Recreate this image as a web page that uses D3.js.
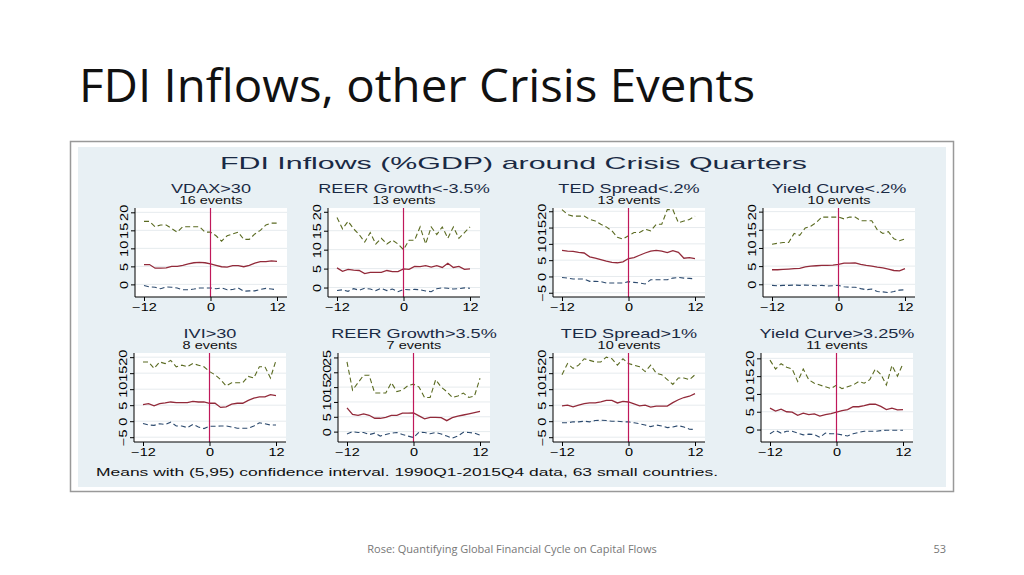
<!DOCTYPE html>
<html>
<head>
<meta charset="utf-8">
<script src="https://cdn.jsdelivr.net/npm/d3@7"></script>
<style>
  body { margin: 0; background: #fff; }
  svg { display: block; }
</style>
</head>
<body>
<svg id="chart" width="1024" height="575"></svg>
<script>
const quarters = d3.range(-12, 13)

const titles = ['VDAX>30', 'REER Growth<-3.5%', 'TED Spread<.2%', 'Yield Curve<.2%',
    'IVI>30', 'REER Growth>3.5%', 'TED Spread>1%', 'Yield Curve>3.25%']
const events = [16, 13, 13, 10, 8, 7, 10, 11]
const yTicks = [
    [0, 5, 10, 15, 20], [0, 5, 10, 15, 20], [-5, 0, 5, 10, 15, 20], [0, 5, 10, 15, 20],
    [-5, 0, 5, 10, 15, 20], [0, 5, 10, 15, 20, 25], [-5, 0, 5, 10, 15, 20], [0, 5, 10, 15, 20],
]
const yDomains = [
    [-3.5, 21.2], [-2.5, 21], [-6.3, 21], [-3.5, 21],
    [-6.5, 21.3], [-3.5, 26.5], [-6.5, 21.3], [-3.5, 21.5],
]

const upper = [
    [17.5, 17.5, 16, 16.5, 16.5, 15.5, 14.5, 16, 16, 16, 16, 14.5, 14.5, 13.5, 12, 13.5, 14, 14.5, 12.5, 12.5, 14, 15, 16.5, 17, 17],
    [18.5, 15.5, 17.5, 15.5, 14, 12, 14.5, 11.5, 13, 11.5, 12.5, 11.5, 10, 12.5, 12.5, 16, 11.5, 16, 14, 16, 13, 16, 13, 14.5, 16],
    [20.5, 19, 18.5, 18.5, 18.5, 17.5, 17, 16, 15.2, 14, 12, 11.5, 12.5, 13.5, 13.5, 14.5, 14, 16, 16, 20.5, 20.5, 16.5, 17, 17.5, 18.5],
    [11, 11.3, 11.5, 11.5, 14, 13.5, 15.5, 16, 17, 18.5, 18.5, 18.5, 18.5, 18, 18.5, 18.5, 17.5, 17.5, 17.5, 15, 14, 14.5, 12.5, 12, 12.5],
    [18.5, 18.5, 16.5, 18.5, 18, 19, 17, 17.5, 17, 18, 17.5, 17, 15.5, 14.5, 13, 11, 12, 12, 12, 14, 13.5, 17, 17, 13.5, 19],
    [23.5, 14, 16.5, 19, 19, 13, 13, 13, 16.5, 13.5, 14, 15.5, 16, 15, 11.5, 11.5, 17.5, 15, 13.5, 11.5, 12, 13, 11.5, 12, 18],
    [14.5, 18, 16.5, 17.5, 19.5, 19, 18.5, 18.5, 20, 19.5, 17.5, 19.5, 18, 17.5, 17, 15.5, 17.5, 15, 14.5, 13, 11.5, 13.5, 13.5, 13, 14.5],
    [19.5, 17, 18.5, 17.5, 17, 13.5, 17, 14, 13, 12.5, 12, 11.5, 12.5, 11.5, 12, 12.5, 13.5, 13, 14, 17, 15.5, 12.5, 18, 15, 18.5],
]
const means = [
    [5.5, 5.5, 4.5, 4.5, 4.6, 5, 5, 5.3, 5.7, 6, 6.1, 6, 5.7, 5.3, 4.9, 4.8, 5.2, 5.2, 4.9, 5.3, 5.9, 6.3, 6.3, 6.5, 6.4],
    [5.2, 4.3, 4.8, 4.6, 4.5, 3.7, 4, 4, 4, 4.5, 4.2, 4.2, 4.9, 4.8, 5.6, 5.5, 5.8, 5.4, 5.8, 5.3, 6.4, 5.3, 5.6, 4.8, 4.9],
    [8, 7.8, 7.7, 7.4, 7.2, 6, 5.6, 5.2, 4.7, 4.3, 4.2, 4.5, 5.5, 5.8, 6.5, 7.2, 7.8, 8, 7.8, 7.3, 7.9, 7.4, 5.6, 5.8, 5.5],
    [4, 4, 4.1, 4.2, 4.3, 4.4, 4.8, 5, 5.1, 5.2, 5.2, 5.3, 5.5, 5.8, 5.8, 5.9, 5.5, 5.2, 5, 4.7, 4.5, 4.2, 3.8, 3.7, 4.3],
    [5.2, 5.5, 4.8, 5.5, 5.7, 6, 5.8, 5.8, 5.8, 6.2, 6, 6, 5.6, 5.6, 4.3, 4.5, 5.3, 5.6, 5.6, 6.5, 7.2, 7.6, 7.6, 8.3, 8],
    [8, 5.8, 5.5, 6, 5.5, 4.5, 4.5, 4.8, 5.5, 5.5, 6.2, 6.2, 6.3, 5.3, 4.3, 4.8, 4.8, 4.7, 3.7, 4.7, 5.2, 5.6, 6, 6.4, 6.8],
    [4.8, 5, 4.5, 5, 5.5, 5.7, 5.7, 6, 6.5, 6.5, 5.7, 6.2, 6, 5.4, 4.8, 5, 4.4, 4.7, 4.7, 4.7, 5.8, 6.7, 7.4, 7.8, 8.6],
    [6, 5.2, 5.7, 5, 4.9, 4, 4.6, 4.2, 4.4, 3.8, 4.2, 4.5, 4.9, 5.3, 5.6, 6.4, 6.4, 6.7, 7.1, 7.1, 6.5, 5.6, 6, 5.5, 5.6],
]
const lower = [
    [-0.3, -0.7, -0.8, -1.2, -0.7, -0.8, -1, -1.5, -1.5, -1.3, -1, -1, -1, -1.2, -1, -1.5, -1.4, -1, -1.9, -1.8, -1.8, -1.4, -1.1, -1.3, -1.5],
    [-0.8, -0.6, -1, -0.3, -0.7, -0.2, -0.4, -0.8, -0.2, -0.8, -0.4, -1.1, -0.5, -0.6, -0.5, -0.6, -0.9, -1.1, -0.3, -0.1, -0.2, -0.4, -0.3, -0.1, -0.2],
    [-0.3, -0.5, -0.8, -0.8, -0.8, -1.5, -1.5, -1.6, -2, -2, -2, -2, -1.6, -1.8, -2, -2.3, -1, -1, -1, -1, -0.5, -0.3, -0.5, -0.6, -0.7],
    [-0.3, -0.4, -0.3, -0.3, -0.2, -0.3, -0.2, -0.3, -0.4, -0.3, -0.5, -0.4, -0.3, -0.7, -0.8, -0.8, -1.2, -1.5, -1.3, -2, -2.1, -2.3, -2, -1.6, -1.5],
    [-0.7, -1.2, -1.3, -0.8, -1, -0.3, -1.5, -1.5, -2, -1, -1.8, -2.3, -1.6, -1.6, -1.5, -1.5, -1.8, -2.2, -2.2, -2.2, -1.5, -0.5, -0.8, -1.2, -1.2],
    [-0.8, 0, -0.3, -0.3, -1, -0.5, -1.5, -1, -0.5, -0.3, -1, -1.5, -2, -0.2, -0.3, -0.7, -0.3, -0.8, -1.5, -2.2, -1.5, -0.2, -0.3, -0.5, -1.2],
    [-0.5, -0.5, -0.2, -0.2, 0, -0.2, 0.2, 0.3, 0.2, 0, 0, -0.2, -0.2, -0.5, -0.8, -1.2, -1.7, -1.2, -1.5, -2, -1.8, -1.4, -1.8, -2.5, -2.6],
    [-1.2, -0.2, -1, -0.5, -0.5, -1, -1.5, -1.3, -1.4, -2.2, -1, -1.2, -1.2, -1.5, -1.8, -1.2, -0.8, -0.5, -0.5, -0.5, -0.3, -0.2, -0.2, -0.2, -0.2],
]

const svg = d3.select('#chart')
const font = '"Liberation Sans", Arial, sans-serif'
const stretch = 1.45

// wide Stata-style text: stretched horizontally around its anchor
const wideText = (parent, x, y, size, txt) => parent.append('text')
    .attr('transform', `translate(${x},${y}) scale(${stretch},1)`)
    .attr('text-anchor', 'middle').style('font', `${size}px ${font}`).text(txt)

// slide title and footer
svg.append('text').attr('x', 79).attr('y', 102)
    .attr('textLength', 676).attr('lengthAdjust', 'spacingAndGlyphs')
    .style('font', '46px "Open Sans", "Noto Sans", sans-serif').attr('fill', '#111')
    .text('FDI Inflows, other Crisis Events')
svg.append('text').attr('x', 512).attr('y', 553).attr('text-anchor', 'middle')
    .style('font', '11px "Open Sans", sans-serif').attr('fill', '#777')
    .text('Rose: Quantifying Global Financial Cycle on Capital Flows')
svg.append('text').attr('x', 946).attr('y', 553).attr('text-anchor', 'end')
    .style('font', '11px "Open Sans", sans-serif').attr('fill', '#777').text('53')

// image frame
svg.append('rect').attr('x', 70.5).attr('y', 141.5).attr('width', 883).attr('height', 350)
    .attr('fill', '#fff').attr('stroke', '#999').attr('stroke-width', 1.5)
svg.append('rect').attr('x', 78).attr('y', 147).attr('width', 868).attr('height', 340).attr('fill', '#e8f0f4')

svg.append('text').attr('x', 220).attr('y', 169)
    .attr('textLength', 587).attr('lengthAdjust', 'spacingAndGlyphs')
    .style('font', `17px ${font}`).attr('fill', '#1a2a44')
    .text('FDI Inflows (%GDP) around Crisis Quarters')
svg.append('text').attr('x', 96).attr('y', 476)
    .attr('textLength', 622).attr('lengthAdjust', 'spacingAndGlyphs')
    .style('font', `10.5px ${font}`).attr('fill', '#111')
    .text('Means with (5,95) confidence interval.  1990Q1-2015Q4 data, 63 small countries.')

const axisX = [135, 328, 553, 763, 134, 338, 553, 761]
const rowTop = [208, 353]
const plotW = 152, plotH = 89

titles.forEach((t, i) => {
    const row = i < 4 ? 0 : 1
    const g = svg.append('g').attr('transform', `translate(${axisX[i]},${rowTop[row]})`)
    const x = d3.scaleLinear().domain([-12, 12]).range([9, 142])
    const y = d3.scaleLinear().domain(yDomains[i]).range([plotH, 0])

    g.append('rect').attr('width', plotW).attr('height', plotH).attr('fill', '#fff')
    g.selectAll('.grid').data(yTicks[i]).join('line')
        .attr('x1', 0).attr('x2', plotW).attr('y1', d => y(d)).attr('y2', d => y(d))
        .attr('stroke', '#e6ebee').attr('stroke-width', 1)

    wideText(g, 76, -15, 12.5, t).attr('fill', '#1a2a44')
    wideText(g, 76, -4, 10, `${events[i]} events`).attr('fill', '#111')

    const line = d3.line().x((d, k) => x(quarters[k])).y(d => y(d))
    g.append('path').datum(upper[i]).attr('d', line).attr('fill', 'none')
        .attr('stroke', '#5b6b22').attr('stroke-width', 1.1).attr('stroke-dasharray', '5,3')
    g.append('path').datum(lower[i]).attr('d', line).attr('fill', 'none')
        .attr('stroke', '#2c4a6e').attr('stroke-width', 1.1).attr('stroke-dasharray', '5,3')
    g.append('path').datum(means[i]).attr('d', line).attr('fill', 'none')
        .attr('stroke', '#922a3a').attr('stroke-width', 1.3)
    g.append('line').attr('x1', x(0)).attr('x2', x(0)).attr('y1', 0).attr('y2', plotH)
        .attr('stroke', '#c0185a').attr('stroke-width', 1.2)

    const ya = g.append('g').call(d3.axisLeft(y).tickValues(yTicks[i]).tickSize(4).tickSizeOuter(0))
    ya.select('.domain').attr('d', `M0,0V${plotH}`)
    ya.selectAll('text').attr('transform', `rotate(-90) scale(${stretch},1)`).attr('x', 0).attr('y', -7).attr('dy', 0)
        .attr('text-anchor', 'middle').style('font', `10px ${font}`)

    const xa = g.append('g').attr('transform', `translate(0,${plotH})`)
        .call(d3.axisBottom(x).tickValues([-12, 0, 12]).tickSize(4).tickSizeOuter(0))
    xa.select('.domain').attr('d', `M0,0H${plotW}`)
    xa.selectAll('text').attr('transform', `scale(${stretch},1)`).style('font', `10px ${font}`)
})
</script>
</body>
</html>
